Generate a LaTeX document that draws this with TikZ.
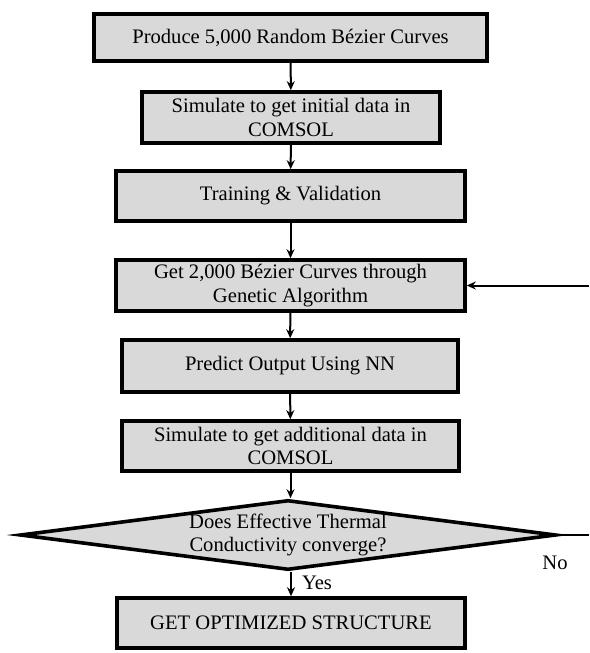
\documentclass[tikz,border=0pt]{standalone}
\usepackage{fontspec}
\setmainfont{Liberation Serif}
\usetikzlibrary{shapes.geometric,arrows.meta}
\begin{document}
\begin{tikzpicture}[x=1pt, y=-1pt, font=\fontsize{20.6}{23.5}\selectfont, line join=miter, >={Stealth[length=9pt,width=8pt]},
		box/.style={draw, line width=3.6pt, fill=boxgray, align=center, inner sep=0pt},
		link/.style={->, line width=2pt}]
			\definecolor{boxgray}{HTML}{D9D9D9}
			\useasboundingbox (0,0) rectangle (589,653);
			\coordinate (edge) at (589,0);
			\node[box, minimum width=393pt, minimum height=47pt] (prod) at (290.5,37.5) {Produce 5,000 Random Bézier Curves};
			\node[box, minimum width=298pt, minimum height=51pt] (sim1) at (291,117.5) {Simulate to get initial data in\\COMSOL};
			\node[box, minimum width=349pt, minimum height=50pt] (train) at (290.5,196) {Training \& Validation};
			\node[box, minimum width=349pt, minimum height=51pt] (ga) at (290.5,285.5) {Get 2,000 Bézier Curves through\\Genetic Algorithm};
			\node[box, minimum width=336pt, minimum height=52pt] (pred) at (290,366) {Predict Output Using NN};
			\node[box, minimum width=337pt, minimum height=50pt] (sim2) at (290.5,446) {Simulate to get additional data in\\COMSOL};
			\node[box, shape=diamond, minimum width=536pt, minimum height=70pt] (conv) at (288,535) {};
			\node[align=center] (convtext) at (conv) {Does Effective Thermal\\Conductivity converge?};
			\node[box, minimum width=348pt, minimum height=50pt] (opt) at (291,623) {GET OPTIMIZED STRUCTURE};
			\foreach \p/\q in {prod/sim1, sim1/train, train/ga, ga/pred, pred/sim2}
				\draw[link] (\p) -- (\q);
			\draw[link] (sim2.south) -- (sim2.south |- conv.north);
			\draw[link] (opt.north |- conv.south) -- (opt.north);
			\draw[link] (edge |- ga.east) -- (ga.east);
			\draw[line width=2pt] (conv.east) -- (conv.east -| edge);
			\node (no) at (555,563) {No};
			\node (yes) at (317,583) {Yes};
		\end{tikzpicture}
\end{document}
